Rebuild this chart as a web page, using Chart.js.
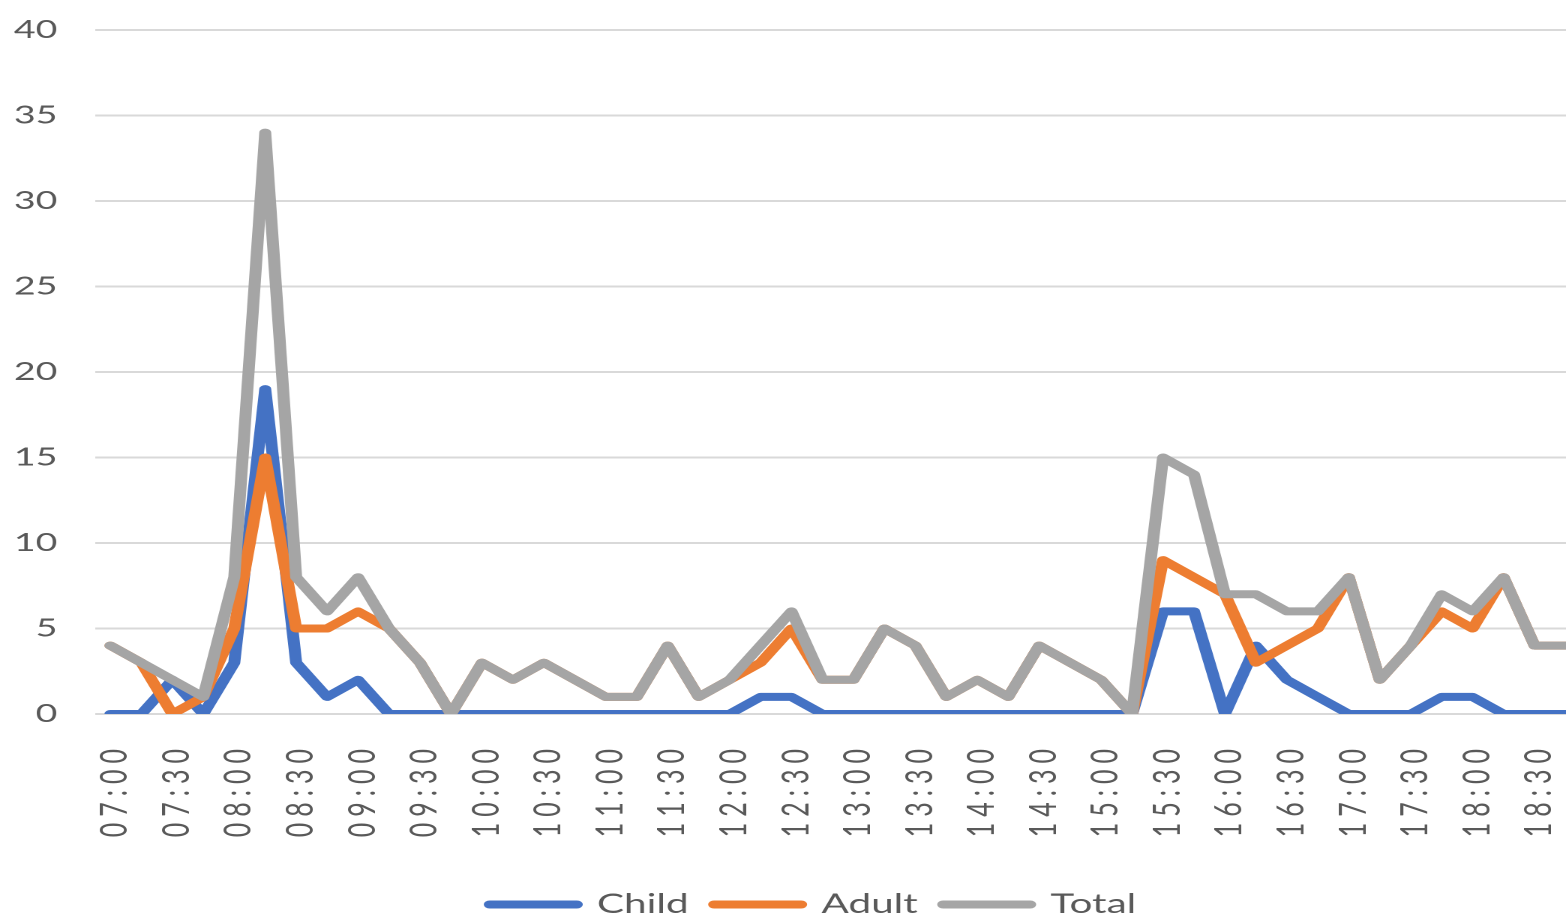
<!DOCTYPE html>
<html>
<head>
<meta charset="utf-8">
<script src="https://cdn.jsdelivr.net/npm/chart.js@4.4.1/dist/chart.umd.min.js"></script>
<style>
  html, body { margin: 0; padding: 0; background: #ffffff; overflow: hidden; width: 1566px; height: 918px; }
  #wrap { position: absolute; left: 0; top: 0; width: 1076px; height: 928px; transform: scaleX(1.5); transform-origin: 0 0; }
</style>
</head>
<body>
<div id="wrap"><canvas id="c"></canvas></div>
<script>
const times = [
  "07:00","07:15","07:30","07:45","08:00","08:15","08:30","08:45",
  "09:00","09:15","09:30","09:45","10:00","10:15","10:30","10:45",
  "11:00","11:15","11:30","11:45","12:00","12:15","12:30","12:45",
  "13:00","13:15","13:30","13:45","14:00","14:15","14:30","14:45",
  "15:00","15:15","15:30","15:45","16:00","16:15","16:30","16:45",
  "17:00","17:15","17:30","17:45","18:00","18:15","18:30","18:45"
];
const child = [
  0, 0, 2, 0, 3, 19, 3, 1,
  2, 0, 0, 0, 0, 0, 0, 0,
  0, 0, 0, 0, 0, 1, 1, 0,
  0, 0, 0, 0, 0, 0, 0, 0,
  0, 0, 6, 6, 0, 4, 2, 1,
  0, 0, 0, 1, 1, 0, 0, 0
];
const adult = [
  4, 3, 0, 1, 5, 15, 5, 5,
  6, 5, 3, 0, 3, 2, 3, 2,
  1, 1, 4, 1, 2, 3, 5, 2,
  2, 5, 4, 1, 2, 1, 4, 3,
  2, 0, 9, 8, 7, 3, 4, 5,
  8, 2, 4, 6, 5, 8, 4, 4
];
const total = [
  4, 3, 2, 1, 8, 34, 8, 6,
  8, 5, 3, 0, 3, 2, 3, 2,
  1, 1, 4, 1, 2, 4, 6, 2,
  2, 5, 4, 1, 2, 1, 4, 3,
  2, 0, 15, 14, 7, 7, 6, 6,
  8, 2, 4, 7, 6, 8, 4, 4
];
const seriesNames = ["Child", "Adult", "Total"];
const yMin = 0, yMax = 40, yStep = 5;

const FONT = "Lato, 'Open Sans', sans-serif";
const TEXT = "#595959";
const CANVAS_H = 928;
const PLOT_BOTTOM = 714;
const PAD_LEFT = 8;
const PLOT_LEFT = 63.3;

const xLabelSpacing = {
  id: 'xLabelSpacing',
  afterUpdate(chart) {
    const s = chart.scales.x;
    if (s && !s._spacingPatched) {
      const orig = s.drawLabels;
      s.drawLabels = function (area) {
        const ctx = this.ctx;
        ctx.save();
        ctx.letterSpacing = '6px';
        orig.call(this, area);
        ctx.restore();
      };
      s._spacingPatched = true;
    }
  }
};

new Chart(document.getElementById('c'), {
  type: 'line',
  data: {
    labels: times,
    datasets: [
      { label: seriesNames[0], data: child, borderColor: '#4472C4', backgroundColor: '#4472C4', order: 2 },
      { label: seriesNames[1], data: adult, borderColor: '#ED7D31', backgroundColor: '#ED7D31', order: 1 },
      { label: seriesNames[2], data: total, borderColor: '#A5A5A5', backgroundColor: '#A5A5A5', order: 0 }
    ]
  },
  plugins: [xLabelSpacing],
  options: {
    responsive: true,
    maintainAspectRatio: false,
    animation: false,
    devicePixelRatio: 2,
    datasets: {
      line: { borderWidth: 8, pointRadius: 0, pointHoverRadius: 0, tension: 0,
              borderCapStyle: 'round', borderJoinStyle: 'round', fill: false }
    },
    layout: { padding: { left: PAD_LEFT, right: 0, top: 30, bottom: 0 } },
    scales: {
      x: {
        offset: true,
        grid: { display: false },
        border: { display: false },
        ticks: {
          autoSkip: false, maxRotation: 90, minRotation: 90, padding: 21, labelOffset: 3,
          color: TEXT, font: { family: FONT, size: 25 },
          callback: (v, i) => (i % 2 === 0 ? times[i] : '')
        },
        afterFit: (s) => {
          s.paddingLeft = 0;
          s.paddingRight = 22;
          const lh = s.chart.legend ? s.chart.legend.height : 0;
          s.height = CANVAS_H - lh - PLOT_BOTTOM;
        }
      },
      y: {
        min: yMin, max: yMax,
        ticks: { stepSize: yStep, padding: 25, color: TEXT, font: { family: FONT, size: 25 } },
        grid: { color: '#D9D9D9', lineWidth: 2, drawTicks: false },
        border: { display: false },
        afterFit: (s) => { s.paddingTop = 0; s.paddingBottom = 0; s.width = PLOT_LEFT - PAD_LEFT; }
      }
    },
    plugins: {
      legend: {
        position: 'bottom',
        labels: {
          boxWidth: 58, boxHeight: 0, padding: 17, color: TEXT, font: { family: FONT, size: 27 },
          sort: (a, b) => a.datasetIndex - b.datasetIndex
        }
      },
      tooltip: { enabled: false }
    }
  }
});
</script>
</body>
</html>
